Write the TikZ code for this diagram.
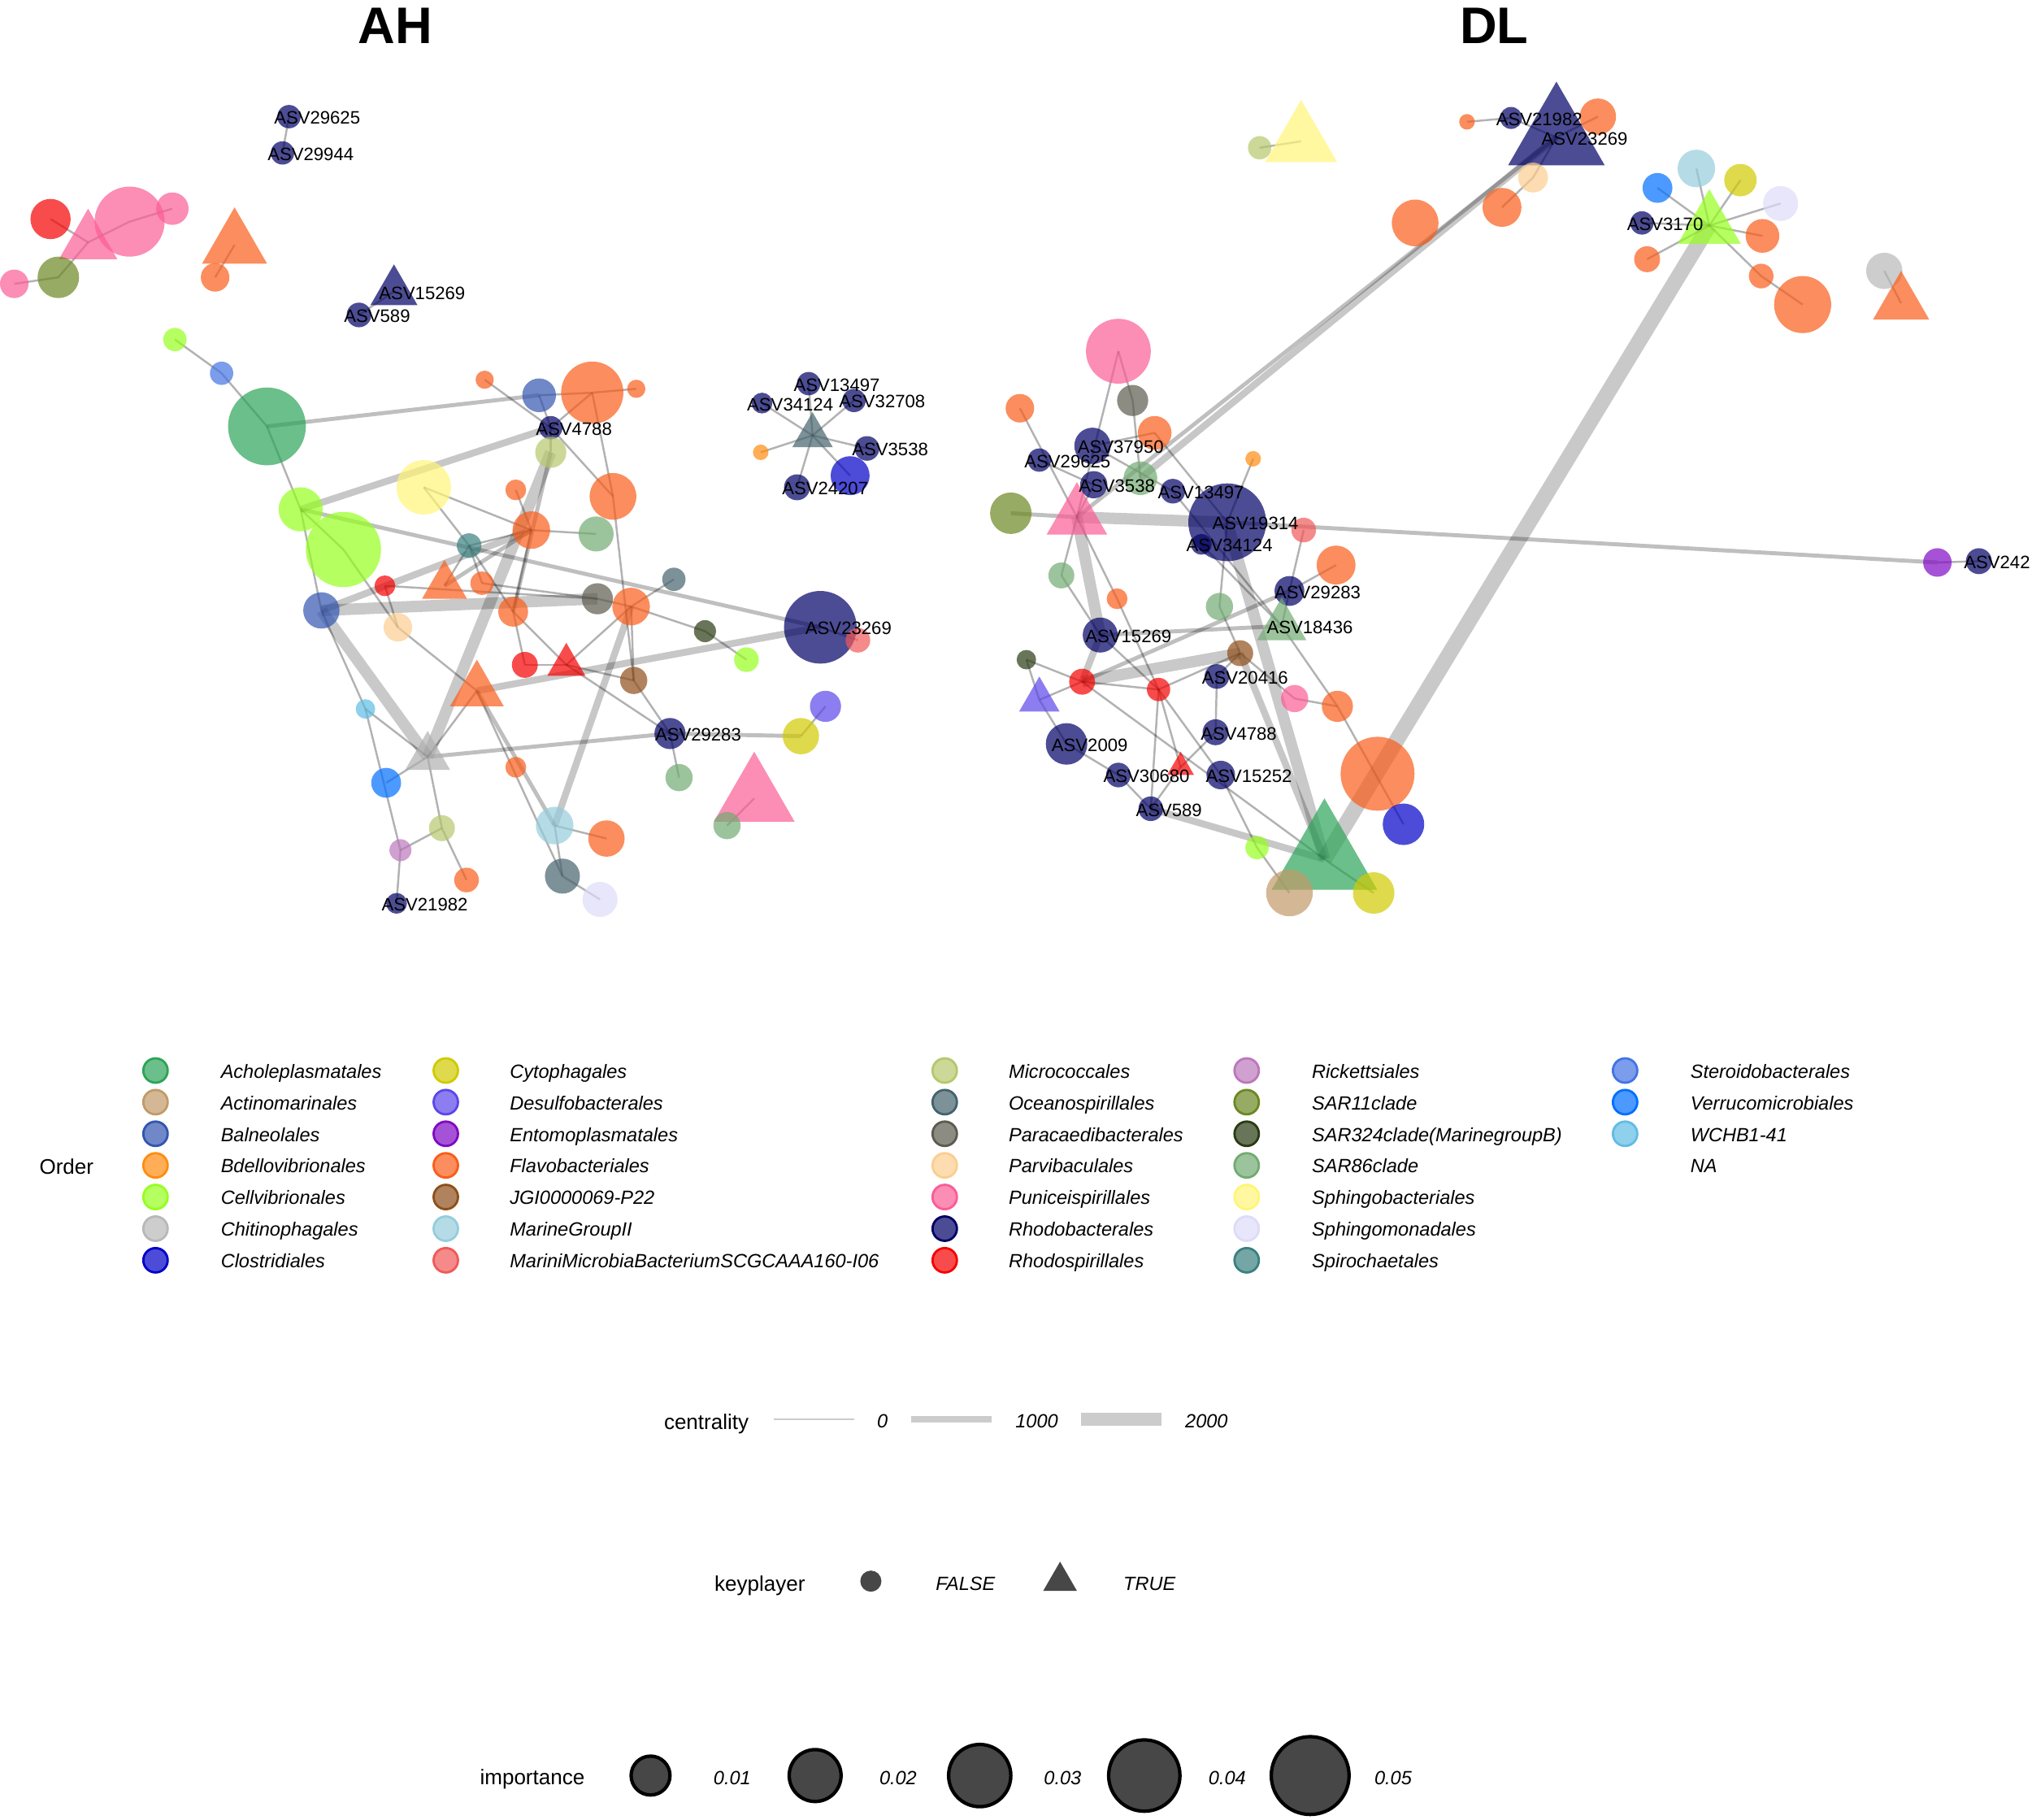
\documentclass[tikz,border=0pt]{standalone}
\usepackage{fontspec}
\setmainfont{Liberation Sans}
\usetikzlibrary{shapes.geometric,backgrounds}

\definecolor{cAchole}{HTML}{2CA458}
\definecolor{cActino}{HTML}{C29A69}
\definecolor{cBalneo}{HTML}{3355B0}
\definecolor{cBdello}{HTML}{FF8C10}
\definecolor{cCellvib}{HTML}{96FF1E}
\definecolor{cChitin}{HTML}{B8B8B8}
\definecolor{cClostr}{HTML}{0000C8}
\definecolor{cCytoph}{HTML}{D0CA00}
\definecolor{cDesulf}{HTML}{5B47EA}
\definecolor{cEntomo}{HTML}{8009C4}
\definecolor{cFlavo}{HTML}{FA5C1A}
\definecolor{cJgi}{HTML}{8E4F19}
\definecolor{cMargrp}{HTML}{95CDDB}
\definecolor{cMarmic}{HTML}{F15858}
\definecolor{cMicroc}{HTML}{B6C76C}
\definecolor{cOceano}{HTML}{44636C}
\definecolor{cParacae}{HTML}{5B5B4F}
\definecolor{cParvib}{HTML}{FBCD8E}
\definecolor{cPunic}{HTML}{FB5C94}
\definecolor{cRhodob}{HTML}{000066}
\definecolor{cRhodsp}{HTML}{F50000}
\definecolor{cRicket}{HTML}{BC77BC}
\definecolor{cSarEl}{HTML}{6C8822}
\definecolor{cSarTh}{HTML}{2A3B13}
\definecolor{cSarEi}{HTML}{72AB72}
\definecolor{cSphgb}{HTML}{FFF577}
\definecolor{cSphgm}{HTML}{DEDBF8}
\definecolor{cSpiro}{HTML}{3B8080}
\definecolor{cSteroid}{HTML}{4473E4}
\definecolor{cVerruc}{HTML}{006FFF}
\definecolor{cWchb}{HTML}{60BCE4}
\definecolor{cNagrey}{HTML}{B0B0B0}

\tikzset{
  achole/.style={fill=cAchole}, actino/.style={fill=cActino}, balneo/.style={fill=cBalneo},
  bdello/.style={fill=cBdello}, cellvib/.style={fill=cCellvib}, chitin/.style={fill=cChitin},
  clostr/.style={fill=cClostr}, cytoph/.style={fill=cCytoph}, desulf/.style={fill=cDesulf},
  entomo/.style={fill=cEntomo}, flavo/.style={fill=cFlavo}, jgi/.style={fill=cJgi},
  margrp/.style={fill=cMargrp}, marmic/.style={fill=cMarmic}, microc/.style={fill=cMicroc},
  oceano/.style={fill=cOceano}, paracae/.style={fill=cParacae}, parvib/.style={fill=cParvib},
  punic/.style={fill=cPunic}, rhodob/.style={fill=cRhodob}, rhodsp/.style={fill=cRhodsp},
  ricket/.style={fill=cRicket}, sareleven/.style={fill=cSarEl}, sarthree/.style={fill=cSarTh},
  sareight/.style={fill=cSarEi}, sphgb/.style={fill=cSphgb}, sphgm/.style={fill=cSphgm},
  spiro/.style={fill=cSpiro}, steroid/.style={fill=cSteroid}, verruc/.style={fill=cVerruc},
  wchb/.style={fill=cWchb}, nagrey/.style={fill=cNagrey}
}

\begin{document}
\begin{tikzpicture}[x=0.015944cm, y=-0.015944cm,
  vtx/.style={circle, inner sep=0pt, minimum size=#1*0.0319cm, fill opacity=0.7},
  kpl/.style={regular polygon, regular polygon sides=3, inner sep=0pt, minimum size=#1*0.0319cm, fill opacity=0.7},
  asv/.style={font=\fontsize{6.3}{7}\selectfont, anchor=mid west, inner sep=0pt, xshift=-0.19cm},
  e1/.style={draw=black, draw opacity=0.3, line width=0.7pt},
  e2/.style={draw=black, draw opacity=0.25, line width=1.4pt},
  e3/.style={draw=black, draw opacity=0.22, line width=2.4pt},
  e4/.style={draw=black, draw opacity=0.21, line width=4pt},
  e5/.style={draw=black, draw opacity=0.21, line width=5.4pt},
  ttl/.style={font=\fontsize{18}{20}\selectfont\bfseries, inner sep=0pt},
  ltitle/.style={font=\fontsize{7.4}{9}\selectfont, anchor=mid west, inner sep=0pt},
  keylab/.style={font=\fontsize{6.7}{8}\selectfont\itshape, anchor=mid west, inner sep=0pt},
  lval/.style={font=\fontsize{6.7}{8}\selectfont\itshape, anchor=mid, inner sep=0pt},
  keydot/.style={circle, inner sep=0pt, minimum size=0.3cm, fill opacity=0.7, line width=0.8pt},
  lgline/.style={draw=black!20},
  impdot/.style={circle, inner sep=0pt, fill=black!72, draw=black, line width=1.2pt, minimum size=#1*0.0319cm}
]
\useasboundingbox (0,0) rectangle (1568,1404);

% titles
\node[ttl] (tAH) at (305,20) {AH};
\node[ttl] (tDL) at (1153,20) {DL};

% ---------------- AH network ----------------
\node[vtx=15.5,rhodsp] (h61) at (39,169) {};
\node[kpl=26,punic] (h62) at (68,187) {};
\node[vtx=27,punic] (h63) at (100,171) {};
\node[vtx=12.5,punic] (h64) at (133,161) {};
\node[vtx=16,sareleven] (h65) at (45,214) {};
\node[vtx=11,punic] (h66) at (11,219) {};
\node[kpl=29,flavo] (h67) at (181,189) {};
\node[vtx=11,flavo] (h68) at (166,214) {};
\node[vtx=9,rhodob] (h69) at (223,90) {};
\node[vtx=9,rhodob] (h70) at (218,118) {};
\node[kpl=21,rhodob] (h71) at (304,225) {};
\node[vtx=9.5,rhodob] (h72) at (277,243) {};

\node[vtx=30,achole] (h1) at (206,329) {};
\node[vtx=17,cellvib] (h2) at (232,393) {};
\node[vtx=29,cellvib] (h3) at (265,424) {};
\node[vtx=9,cellvib] (h4) at (135,262) {};
\node[vtx=9,steroid] (h5) at (171,288) {};
\node[vtx=14,balneo] (h6) at (248,471) {};
\node[vtx=11,parvib] (h7) at (307,484) {};
\node[vtx=8,rhodsp] (h8) at (297,452) {};
\node[vtx=21,sphgb] (h9) at (327,376) {};
\node[vtx=9.5,spiro] (h10) at (362,421) {};
\node[kpl=20,flavo] (h11) at (343,452) {};
\node[vtx=9,flavo] (h12) at (372,450) {};
\node[vtx=8,flavo] (h13) at (398,378) {};
\node[vtx=14.5,flavo] (h14) at (410,409) {};
\node[vtx=7,flavo] (h15) at (374,293) {};
\node[vtx=13,balneo] (h16) at (416,305) {};
\node[vtx=24,flavo] (h17) at (457,303) {};
\node[vtx=7,flavo] (h18) at (491,300) {};
\node[vtx=9,rhodob] (h19) at (425,330) {};
\node[vtx=12,microc] (h20) at (425,349) {};
\node[vtx=18,flavo] (h21) at (473,383) {};
\node[vtx=13.5,sareight] (h22) at (460,412) {};
\node[vtx=11.5,flavo] (h23) at (396,472) {};
\node[vtx=12,paracae] (h24) at (461,462) {};
\node[vtx=14.5,flavo] (h25) at (487,468) {};
\node[vtx=9,oceano] (h26) at (520,447) {};
\node[vtx=8.5,sarthree] (h27) at (544,487) {};
\node[vtx=9.5,cellvib] (h28) at (576,509) {};
\node[vtx=28,rhodob] (h29) at (633,484) {};
\node[vtx=9.5,marmic] (h30) at (662,494) {};
\node[vtx=10,rhodsp] (h31) at (405,513) {};
\node[kpl=17,rhodsp] (h32) at (437,513) {};
\node[vtx=10.5,jgi] (h33) at (489,525) {};
\node[kpl=24,flavo] (h34) at (368,533) {};
\node[vtx=7.5,wchb] (h35) at (282,547) {};
\node[kpl=20,nagrey] (h36) at (330,584) {};
\node[vtx=11.5,verruc] (h37) at (298,604) {};
\node[vtx=8,flavo] (h38) at (398,592) {};
\node[vtx=14.5,margrp] (h39) at (428,637) {};
\node[vtx=14,flavo] (h40) at (468,647) {};
\node[vtx=13.5,oceano] (h41) at (434,676) {};
\node[vtx=13.5,sphgm] (h42) at (463,694) {};
\node[vtx=10,microc] (h43) at (341,639) {};
\node[vtx=8.5,ricket] (h44) at (309,656) {};
\node[vtx=9.5,flavo] (h45) at (360,679) {};
\node[vtx=8,rhodob] (h46) at (306,697) {};
\node[vtx=12,rhodob] (h47) at (517,566) {};
\node[vtx=10.5,sareight] (h48) at (524,600) {};
\node[vtx=14,cytoph] (h49) at (618,568) {};
\node[vtx=12,desulf] (h50) at (637,545) {};
\node[kpl=36,punic] (h51) at (582,616) {};
\node[vtx=10.5,sareight] (h52) at (561,637) {};
\node[kpl=18,oceano] (h53) at (627,336) {};
\node[vtx=9,rhodob] (h54) at (624,296) {};
\node[vtx=8,rhodob] (h55) at (588,311) {};
\node[vtx=9,rhodob] (h56) at (659,309) {};
\node[vtx=15,clostr] (h59) at (656,367) {};
\node[vtx=9.5,rhodob] (h57) at (669,346) {};
\node[vtx=10,rhodob] (h58) at (615,376) {};
\node[vtx=6,bdello] (h60) at (587,349) {};

% ---------------- DL network ----------------
\node[vtx=9,microc] (d1) at (972,114) {};
\node[kpl=32,sphgb] (d2) at (1004,109) {};
\node[vtx=6,flavo] (d3) at (1132,94) {};
\node[vtx=8.5,rhodob] (d4) at (1166,91) {};
\node[vtx=14,flavo] (d6) at (1233,90) {};
\node[kpl=43,rhodob] (d5) at (1201,106) {};
\node[vtx=11.5,parvib] (d7) at (1183,137) {};
\node[vtx=15,flavo] (d8) at (1159,160) {};
\node[vtx=18,flavo] (d9) at (1092,172) {};
\node[vtx=14.5,margrp] (d10) at (1309,130) {};
\node[vtx=11.5,verruc] (d11) at (1279,145) {};
\node[vtx=12.5,cytoph] (d12) at (1343,139) {};
\node[vtx=13.5,sphgm] (d13) at (1374,157) {};
\node[vtx=9,rhodob] (d14) at (1267,172) {};
\node[kpl=28,cellvib] (d15) at (1319,174) {};
\node[vtx=13,flavo] (d16) at (1360,182) {};
\node[vtx=10,flavo] (d17) at (1271,200) {};
\node[vtx=9.5,flavo] (d18) at (1359,213) {};
\node[vtx=22,flavo] (d19) at (1391,235) {};
\node[vtx=14,chitin] (d20) at (1454,209) {};
\node[kpl=25,flavo] (d21) at (1467,234) {};
\node[vtx=25,punic] (d22) at (863,271) {};
\node[vtx=12,paracae] (d23) at (874,309) {};
\node[vtx=11,flavo] (d24) at (787,315) {};
\node[vtx=13,flavo] (d25) at (891,334) {};
\node[vtx=14,rhodob] (d26) at (843,344) {};
\node[vtx=9,rhodob] (d27) at (802,355) {};
\node[vtx=13,sareight] (d28) at (880,369) {};
\node[vtx=10.5,rhodob] (d29) at (844,374) {};
\node[vtx=9.5,rhodob] (d30) at (905,379) {};
\node[vtx=6,bdello] (d31) at (967,354) {};
\node[vtx=16,sareleven] (d32) at (780,396) {};
\node[kpl=27,punic] (d33) at (831,399) {};
\node[vtx=30,rhodob] (d34) at (947,403) {};
\node[vtx=8,rhodob] (d35) at (927,420) {};
\node[vtx=9.5,marmic] (d36) at (1006,409) {};
\node[vtx=15,flavo] (d37) at (1031,436) {};
\node[vtx=11.5,rhodob] (d38) at (995,456) {};
\node[vtx=10,sareight] (d39) at (819,444) {};
\node[vtx=8,flavo] (d40) at (862,462) {};
\node[vtx=10.5,sareight] (d41) at (941,468) {};
\node[kpl=22,sareight] (d42) at (989,483) {};
\node[vtx=13.5,rhodob] (d43) at (849,490) {};
\node[vtx=11,entomo] (d44) at (1495,434) {};
\node[vtx=10,rhodob] (d45) at (1527,433) {};
\node[vtx=7.5,sarthree] (d46) at (792,509) {};
\node[vtx=10,rhodsp] (d47) at (835,526) {};
\node[kpl=18,desulf] (d48) at (802,540) {};
\node[vtx=9,rhodsp] (d49) at (894,532) {};
\node[vtx=10,jgi] (d50) at (957,504) {};
\node[vtx=9.5,rhodob] (d51) at (939,522) {};
\node[vtx=10.5,punic] (d52) at (999,539) {};
\node[vtx=12,flavo] (d53) at (1032,545) {};
\node[vtx=10,rhodob] (d54) at (938,565) {};
\node[vtx=16,rhodob] (d55) at (823,574) {};
\node[kpl=12,rhodsp] (d56) at (911,592) {};
\node[vtx=9.5,rhodob] (d57) at (863,598) {};
\node[vtx=11,rhodob] (d58) at (942,598) {};
\node[vtx=9.5,rhodob] (d59) at (888,624) {};
\node[vtx=28.5,flavo] (d60) at (1063,597) {};
\node[vtx=16,clostr] (d61) at (1083,636) {};
\node[vtx=9,cellvib] (d62) at (970,654) {};
\node[kpl=47,achole] (d63) at (1022,663) {};
\node[vtx=18,actino] (d64) at (995,689) {};
\node[vtx=16,cytoph] (d65) at (1060,689) {};

% edges under the nodes
\begin{scope}[on background layer]
  \foreach \a/\b in {h61/h62,h62/h63,h63/h64,h62/h65,h65/h66,h67/h68,h69/h70,h71/h72,
      h53/h54,h53/h55,h53/h56,h53/h57,h53/h58,h53/h59,h53/h60,
      h4/h5,h5/h1,h1/h2,h2/h3,h2/h6,h3/h7,h8/h7,h8/h24,h9/h10,h9/h14,h10/h11,h10/h12,
      h10/h14,h10/h23,h12/h24,h13/h14,h14/h22,h14/h23,h15/h19,h16/h19,h16/h17,h17/h18,
      h17/h19,h17/h21,h19/h21,h21/h33,h23/h31,h31/h32,h23/h32,h32/h25,h32/h33,h32/h47,
      h33/h25,h33/h47,h25/h26,h25/h27,h27/h28,h24/h25,h6/h35,h35/h36,h35/h44,h37/h36,
      h44/h46,h44/h43,h43/h36,h43/h45,h36/h34,h7/h34,h34/h41,h39/h40,h39/h41,h41/h42,
      h47/h48,h49/h50,h51/h52,h29/h30,h20/h19,
      d1/d2,d3/d4,d4/d5,d5/d6,d5/d7,d7/d8,d15/d10,d15/d11,d15/d12,d15/d13,d15/d14,
      d15/d16,d15/d17,d15/d18,d18/d19,d20/d21,d22/d33,d22/d23,d23/d28,d24/d33,d25/d26,
      d25/d34,d27/d29,d26/d30,d29/d33,d31/d34,d33/d39,d39/d43,d33/d40,d40/d49,d30/d42,
      d35/d42,d34/d41,d41/d50,d36/d38,d37/d38,d38/d42,d44/d45,d46/d47,d46/d48,d48/d55,
      d47/d48,d47/d49,d47/d63,d43/d49,d49/d59,d49/d58,d49/d50,d49/d56,d51/d54,d50/d51,
      d55/d57,d57/d59,d59/d56,d54/d56,d58/d62,d62/d64,d63/d65,d52/d53,d52/d50,d53/d61,
      d42/d53}
    \draw[e1] (\a.center) -- (\b.center);
  \foreach \a/\b in {h1/h16,h2/h29,h36/h47,h47/h49,h34/h39,h20/h23,h11/h14,
      d34/d44,d43/d42,d38/d47,d32/d33,d5/d33}
    \draw[e2] (\a.center) -- (\b.center);
  \foreach \a/\b in {h2/h19,h6/h14,h34/h29,h39/h25,d5/d28,d43/d47,d50/d63,d59/d63}
    \draw[e3] (\a.center) -- (\b.center);
  \foreach \a/\b in {h6/h24,h6/h36,h36/h20,d33/d34,d33/d43,d34/d63,d47/d50}
    \draw[e4] (\a.center) -- (\b.center);
  \draw[e5] (d15.center) -- (d63.center);
\end{scope}

% node labels
\node[asv] (h69l) at (h69) {ASV29625};
\node[asv] (h70l) at (h70) {ASV29944};
\node[asv] (h71l) at (h71) {ASV15269};
\node[asv] (h72l) at (h72) {ASV589};
\node[asv] (h19l) at (h19) {ASV4788};
\node[asv] (h54l) at (h54) {ASV13497};
\node[asv] (h55l) at (h55) {ASV34124};
\node[asv] (h56l) at (h56) {ASV32708};
\node[asv] (h57l) at (h57) {ASV3538};
\node[asv] (h58l) at (h58) {ASV24207};
\node[asv] (h29l) at (h29) {ASV23269};
\node[asv] (h47l) at (h47) {ASV29283};
\node[asv] (h46l) at (h46) {ASV21982};
\node[asv] (d4l) at (d4) {ASV21982};
\node[asv] (d5l) at (d5) {ASV23269};
\node[asv] (d14l) at (d14) {ASV3170};
\node[asv] (d26l) at (d26) {ASV37950};
\node[asv] (d27l) at (d27) {ASV29625};
\node[asv] (d29l) at (d29) {ASV3538};
\node[asv] (d30l) at (d30) {ASV13497};
\node[asv] (d34l) at (d34) {ASV19314};
\node[asv] (d35l) at (d35) {ASV34124};
\node[asv] (d38l) at (d38) {ASV29283};
\node[asv] (d42l) at (d42) {ASV18436};
\node[asv] (d43l) at (d43) {ASV15269};
\node[asv] (d45l) at (d45) {ASV242};
\node[asv] (d51l) at (d51) {ASV20416};
\node[asv] (d54l) at (d54) {ASV4788};
\node[asv] (d55l) at (d55) {ASV2009};
\node[asv] (d57l) at (d57) {ASV30680};
\node[asv] (d58l) at (d58) {ASV15252};
\node[asv] (d59l) at (d59) {ASV589};

% legend: Order
\node[ltitle] (lord) at (30,900) {Order};
\foreach \nm/\cl [count=\r] in {Acholeplasmatales/cAchole, Actinomarinales/cActino,
    Balneolales/cBalneo, Bdellovibrionales/cBdello, Cellvibrionales/cCellvib,
    Chitinophagales/cChitin, Clostridiales/cClostr} {
  \node[keydot, fill=\cl, draw=\cl] (ka\r) at (120,{801.6+24.4*\r}) {};
  \node[keylab] (la\r) at (170,{801.6+24.4*\r}) {\nm};
}
\foreach \nm/\cl [count=\r] in {Cytophagales/cCytoph, Desulfobacterales/cDesulf,
    Entomoplasmatales/cEntomo, Flavobacteriales/cFlavo, JGI0000069-P22/cJgi,
    MarineGroupII/cMargrp, MariniMicrobiaBacteriumSCGCAAA160-I06/cMarmic} {
  \node[keydot, fill=\cl, draw=\cl] (kb\r) at (344,{801.6+24.4*\r}) {};
  \node[keylab] (lb\r) at (393,{801.6+24.4*\r}) {\nm};
}
\foreach \nm/\cl [count=\r] in {Micrococcales/cMicroc, Oceanospirillales/cOceano,
    Paracaedibacterales/cParacae, Parvibaculales/cParvib, Puniceispirillales/cPunic,
    Rhodobacterales/cRhodob, Rhodospirillales/cRhodsp} {
  \node[keydot, fill=\cl, draw=\cl] (kc\r) at (729,{801.6+24.4*\r}) {};
  \node[keylab] (lc\r) at (778,{801.6+24.4*\r}) {\nm};
}
\foreach \nm/\cl [count=\r] in {Rickettsiales/cRicket, SAR11clade/cSarEl,
    SAR324clade(MarinegroupB)/cSarTh, SAR86clade/cSarEi, Sphingobacteriales/cSphgb,
    Sphingomonadales/cSphgm, Spirochaetales/cSpiro} {
  \node[keydot, fill=\cl, draw=\cl] (kd\r) at (962,{801.6+24.4*\r}) {};
  \node[keylab] (ld\r) at (1012,{801.6+24.4*\r}) {\nm};
}
\foreach \nm/\cl [count=\r] in {Steroidobacterales/cSteroid, Verrucomicrobiales/cVerruc,
    WCHB1-41/cWchb} {
  \node[keydot, fill=\cl, draw=\cl] (ke\r) at (1254,{801.6+24.4*\r}) {};
  \node[keylab] (le\r) at (1304,{801.6+24.4*\r}) {\nm};
}
\node[keylab] (le4) at (1304,899.2) {NA};

% legend: centrality
\node[ltitle] (lcen) at (512,1097) {centrality};
\coordinate (c0a) at (597,1095); \coordinate (c0b) at (659,1095);
\coordinate (c1a) at (703,1095); \coordinate (c1b) at (765,1095);
\coordinate (c2a) at (834,1095); \coordinate (c2b) at (896,1095);
\draw[lgline, line width=0.7pt] (c0a) -- (c0b);
\draw[lgline, line width=2.3pt] (c1a) -- (c1b);
\draw[lgline, line width=4.6pt] (c2a) -- (c2b);
\node[lval] (v0) at (681,1096) {0};
\node[lval] (v1) at (800,1096) {1000};
\node[lval] (v2) at (931,1096) {2000};

% legend: keyplayer
\node[ltitle] (lkey) at (551,1222) {keyplayer};
\node[circle, inner sep=0pt, minimum size=0.26cm, fill=black!72] (kpf) at (672,1220) {};
\node[lval] (vf) at (745,1221) {FALSE};
\node[regular polygon, regular polygon sides=3, inner sep=0pt, minimum size=0.48cm, fill=black!72] (kpt) at (818,1220) {};
\node[lval] (vt) at (887,1221) {TRUE};

% legend: importance
\node[ltitle] (limp) at (370,1371) {importance};
\node[impdot=15] (i1) at (502,1370) {};
\node[impdot=20] (i2) at (629,1370) {};
\node[impdot=24] (i3) at (756,1370) {};
\node[impdot=27.5] (i4) at (883,1370) {};
\node[impdot=30] (i5) at (1011,1370) {};
\node[lval] (vi1) at (565,1371) {0.01};
\node[lval] (vi2) at (693,1371) {0.02};
\node[lval] (vi3) at (820,1371) {0.03};
\node[lval] (vi4) at (947,1371) {0.04};
\node[lval] (vi5) at (1075,1371) {0.05};
\end{tikzpicture}
\end{document}
